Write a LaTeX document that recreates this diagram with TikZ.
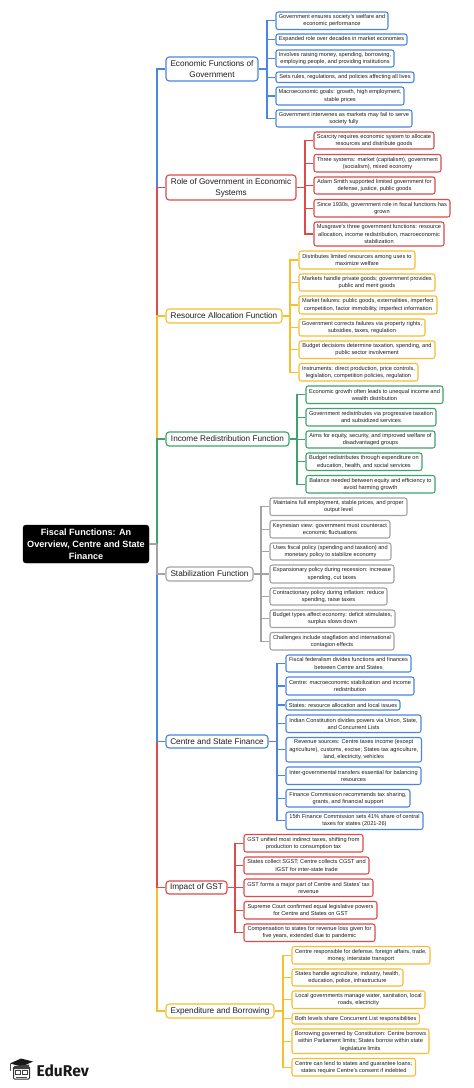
\documentclass[tikz,border=0pt]{standalone}
\usepackage{fontspec}
\setmainfont{Liberation Sans}
\newfontfamily\logofont{Fira Sans}
\definecolor{cblue}{HTML}{4A86E0}
\definecolor{cred}{HTML}{DD4B4B}
\definecolor{cyel}{HTML}{F7BE2D}
\definecolor{cgrn}{HTML}{3FA36C}
\definecolor{cgry}{HTML}{A3A3A3}
\definecolor{ctxt}{HTML}{1E1E1E}
\tikzset{
  box/.style={draw,fill=white,rounded corners=2.2pt,inner sep=0pt,align=center,text=ctxt},
  kidbox/.style={box,line width=1.05pt,font=\fontsize{5.63}{7.35}\selectfont},
  topicbox/.style={box,line width=1.15pt,rounded corners=3.2pt,font=\fontsize{8.2}{11}\selectfont},
  rootbox/.style={draw=black,fill=black,rounded corners=3pt,inner sep=0pt,align=center,text=white,font=\bfseries\fontsize{9.1}{12}\selectfont},
  wire/.style={line width=1.3pt},
  bus/.style={line width=1.5pt},
}
% style name x1 y1 x2 y2 colour text
\newcommand{\bx}[8]{\node[#1,draw=#7,minimum width={(#5-#3)*1pt},minimum height={(#6-#4)*1pt}] (#2) at ({(#3+#5)/2},{(#4+#6)/2}) {#8};}
\newcommand{\wires}[4]{% colour parent trunkx kids
  \coordinate (#2tr) at (#3,0);
  \foreach \k in {#4}{\draw[wire,#1] (#2.east) -- (#2.east -| #2tr) |- (\k.west);}
}
\begin{document}
\begin{tikzpicture}[x=1pt,y=-1pt]
\useasboundingbox (0,0) rectangle (474,1088);
\fill[white] (0,0) rectangle (474,1088);

\bx{rootbox}{root}{23}{525}{149}{563}{black}{Fiscal Functions: An\\Overview, Centre and State\\Finance}

\bx{topicbox}{eco}{166}{57}{258}{81}{cblue}{Economic Functions of\\Government}
\bx{topicbox}{role}{166}{175}{296}{200}{cred}{Role of Government in Economic\\Systems}
\bx{topicbox}{res}{166}{309}{282}{323}{cyel}{Resource Allocation Function}
\bx{topicbox}{inc}{166}{432}{289}{446}{cgrn}{Income Redistribution Function}
\bx{topicbox}{stab}{166}{567}{253}{581}{cgry}{Stabilization Function}
\bx{topicbox}{cen}{166}{735}{268}{748}{cblue}{Centre and State Finance}
\bx{topicbox}{gst}{166}{881}{227}{894}{cred}{Impact of GST}
\bx{topicbox}{exp}{166}{1004}{274}{1018}{cyel}{Expenditure and Borrowing}

% economic
\bx{kidbox}{ecoa}{276}{12}{388}{29.5}{cblue}{Government ensures society's welfare and\\economic performance}
\bx{kidbox}{ecob}{276}{34}{407}{45}{cblue}{Expanded role over decades in market economies}
\bx{kidbox}{ecoc}{276}{50}{394}{67}{cblue}{Involves raising money, spending, borrowing,\\employing people, and providing institutions}
\bx{kidbox}{ecod}{276}{72}{414}{82.5}{cblue}{Sets rules, regulations, and policies affecting all lives}
\bx{kidbox}{ecoe}{276}{87}{404}{105}{cblue}{Macroeconomic goals: growth, high employment,\\stable prices}
\bx{kidbox}{ecof}{276}{110}{412}{127}{cblue}{Government intervenes as markets may fail to serve\\society fully}
% role
\bx{kidbox}{rolea}{314}{132}{434}{149}{cred}{Scarcity requires economic system to allocate\\resources and distribute goods}
\bx{kidbox}{roleb}{314}{154.5}{441}{172}{cred}{Three systems: market (capitalism), government\\(socialism), mixed economy}
\bx{kidbox}{rolec}{314}{177}{435}{194}{cred}{Adam Smith supported limited government for\\defense, justice, public goods}
\bx{kidbox}{roled}{314}{199.5}{450}{217}{cred}{Since 1930s, government role in fiscal functions has\\grown}
\bx{kidbox}{rolee}{314}{222}{444}{246}{cred}{Musgrave's three government functions: resource\\allocation, income redistribution, macroeconomic\\stabilization}
% resource
\bx{kidbox}{resa}{299}{251}{415}{269}{cyel}{Distributes limited resources among uses to\\maximize welfare}
\bx{kidbox}{resb}{299}{274}{435}{291}{cyel}{Markets handle private goods; government provides\\public and merit goods}
\bx{kidbox}{resc}{299}{296}{437}{314}{cyel}{Market failures: public goods, externalities, imperfect\\competition, factor immobility, imperfect information}
\bx{kidbox}{resd}{299}{319}{425}{336}{cyel}{Government corrects failures via property rights,\\subsidies, taxes, regulation}
\bx{kidbox}{rese}{299}{341}{435}{358.5}{cyel}{Budget decisions determine taxation, spending, and\\public sector involvement}
\bx{kidbox}{resf}{299}{363.5}{418}{381}{cyel}{Instruments: direct production, price controls,\\legislation, competition policies, regulation}
% income
\bx{kidbox}{inca}{306}{386}{443}{403.5}{cgrn}{Economic growth often leads to unequal income and\\wealth distribution}
\bx{kidbox}{incb}{306}{408.5}{436}{426}{cgrn}{Government redistributes via progressive taxation\\and subsidized services}
\bx{kidbox}{incc}{306}{431}{435}{448}{cgrn}{Aims for equity, security, and improved welfare of\\disadvantaged groups}
\bx{kidbox}{incd}{306}{453}{422}{470.5}{cgrn}{Budget redistributes through expenditure on\\education, health, and social services}
\bx{kidbox}{ince}{306}{475.5}{435}{493}{cgrn}{Balance needed between equity and efficiency to\\avoid harming growth}
% stabilization
\bx{kidbox}{staba}{270}{498}{407}{515.5}{cgry}{Maintains full employment, stable prices, and proper\\output level}
\bx{kidbox}{stabb}{270}{520.5}{390}{538}{cgry}{Keynesian view: government must counteract\\economic fluctuations}
\bx{kidbox}{stabc}{270}{543}{391}{560}{cgry}{Uses fiscal policy (spending and taxation) and\\monetary policy to stabilize economy}
\bx{kidbox}{stabd}{270}{565}{394}{583}{cgry}{Expansionary policy during recession: increase\\spending, cut taxes}
\bx{kidbox}{stabe}{270}{588}{387}{605}{cgry}{Contractionary policy during inflation: reduce\\spending, raise taxes}
\bx{kidbox}{stabf}{270}{610}{395}{627.5}{cgry}{Budget types affect economy: deficit stimulates,\\surplus slows down}
\bx{kidbox}{stabg}{270}{632.5}{394}{650}{cgry}{Challenges include stagflation and international\\contagion effects}
% centre
\bx{kidbox}{cena}{286}{655}{411}{672}{cblue}{Fiscal federalism divides functions and finances\\between Centre and States}
\bx{kidbox}{cenb}{286}{677}{414}{695}{cblue}{Centre: macroeconomic stabilization and income\\redistribution}
\bx{kidbox}{cenc}{286}{700}{400}{710}{cblue}{States: resource allocation and local issues}
\bx{kidbox}{cend}{286}{715}{421}{732.5}{cblue}{Indian Constitution divides powers via Union, State,\\and Concurrent Lists}
\bx{kidbox}{cene}{286}{737.5}{421.5}{762}{cblue}{Revenue sources: Centre taxes income (except\\agriculture), customs, excise; States tax agriculture,\\land, electricity, vehicles}
\bx{kidbox}{cenf}{286}{767}{421}{784.5}{cblue}{Inter-governmental transfers essential for balancing\\resources}
\bx{kidbox}{ceng}{286}{789.5}{410}{807}{cblue}{Finance Commission recommends tax sharing,\\grants, and financial support}
\bx{kidbox}{cenh}{286}{812}{423}{829.5}{cblue}{15th Finance Commission sets 41\% share of central\\taxes for states (2021-26)}
% gst
\bx{kidbox}{gsta}{244}{834.5}{363}{852}{cred}{GST unified most indirect taxes, shifting from\\production to consumption tax}
\bx{kidbox}{gstb}{244}{857}{369}{874}{cred}{States collect SGST; Centre collects CGST and\\IGST for inter-state trade}
\bx{kidbox}{gstc}{244}{879}{373}{896.5}{cred}{GST forms a major part of Centre and States' tax\\revenue}
\bx{kidbox}{gstd}{244}{901.5}{377}{919}{cred}{Supreme Court confirmed equal legislative powers\\for Centre and States on GST}
\bx{kidbox}{gste}{244}{924}{375}{941.5}{cred}{Compensation to states for revenue loss given for\\five years, extended due to pandemic}
% expenditure
\bx{kidbox}{expa}{292}{946.5}{430}{964}{cyel}{Centre responsible for defense, foreign affairs, trade,\\money, interstate transport}
\bx{kidbox}{expb}{292}{969}{403}{986}{cyel}{States handle agriculture, industry, health,\\education, police, infrastructure}
\bx{kidbox}{expc}{292}{991}{425}{1008.5}{cyel}{Local governments manage water, sanitation, local\\roads, electricity}
\bx{kidbox}{expd}{292}{1013.5}{419.5}{1024}{cyel}{Both levels share Concurrent List responsibilities}
\bx{kidbox}{expe}{292}{1029}{429}{1053.5}{cyel}{Borrowing governed by Constitution: Centre borrows\\within Parliament limits; States borrow within state\\legislature limits}
\bx{kidbox}{expf}{292}{1058.5}{415.5}{1076}{cyel}{Centre can lend to states and guarantee loans;\\states require Centre's consent if indebted}

\coordinate (hub) at (157,544);
\draw[bus,cblue] (hub) |- (eco.west);
\draw[bus,cred] (hub) |- (role.west);
\draw[bus,cyel] (hub) |- (res.west);
\draw[bus,cgrn] (hub) |- (inc.west);
\draw[bus,cyel] (hub) |- (exp.west);
\draw[bus,cred] (hub) |- (gst.west);
\draw[bus,cblue] (hub) |- (cen.west);
\draw[bus,cgry] (hub) |- (stab.west);
\draw[bus,cgry] (root.east) -- (hub);
\wires{cblue}{eco}{267}{ecoa,ecob,ecoc,ecod,ecoe,ecof}
\wires{cred}{role}{305}{rolea,roleb,rolec,roled,rolee}
\wires{cyel}{res}{290}{resa,resb,resc,resd,rese,resf}
\wires{cgrn}{inc}{297}{inca,incb,incc,incd,ince}
\wires{cgry}{stab}{261}{staba,stabb,stabc,stabd,stabe,stabf,stabg}
\wires{cblue}{cen}{277}{cena,cenb,cenc,cend,cene,cenf,ceng,cenh}
\wires{cred}{gst}{235}{gsta,gstb,gstc,gstd,gste}
\wires{cyel}{exp}{283}{expa,expb,expc,expd,expe,expf}

% logo
\fill[black!90] (10,1063.5) -- (21,1058.5) -- (33,1061.5) -- (22,1066.5) -- cycle;
\draw[black!70,line width=0.7pt] (10,1063.5) -- (10,1071);
\fill[black!75] (14,1066) -- (29,1064.5) -- (29,1069) -- (14,1069) -- cycle;
\draw[black!80,line width=1pt,rounded corners=1pt] (13.5,1067) -- (13.5,1079) -- (29.5,1079) -- (29.5,1067);
\draw[black!75,line width=0.8pt] (15.5,1070.5) rectangle (20.5,1074.5) (22.5,1070.5) rectangle (27.5,1074.5);
\draw[black!70,line width=0.8pt] (16,1077) -- (27,1077);
\node[inner sep=0pt,anchor=west,text=black!90] (logo) at (36.5,1070.5) {\logofont\bfseries\fontsize{15.6}{17}\selectfont EduRev};
\end{tikzpicture}
\end{document}
